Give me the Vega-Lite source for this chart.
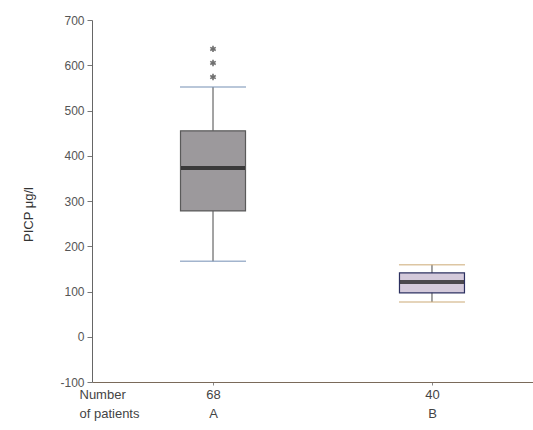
{
  "$schema": "https://vega.github.io/schema/vega-lite/v6.json",
  "autosize": "none",
  "width": 441,
  "height": 362,
  "padding": {"left": 92, "top": 20, "right": 0, "bottom": 48},
  "background": "white",
  "config": {"font": "Liberation Sans", "view": {"stroke": null}},
  "datasets": {
    "stats": [
      {"group": "A", "n": "68", "lo": 167, "q1": 278, "med": 373, "q3": 455, "hi": 552},
      {"group": "B", "n": "40", "lo": 77, "q1": 97, "med": 121, "q3": 141, "hi": 159}
    ],
    "outliers": [
      {"group": "A", "value": 574},
      {"group": "A", "value": 605},
      {"group": "A", "value": 636}
    ]
  },
  "encoding": {
    "x": {
      "field": "group",
      "type": "nominal",
      "scale": {"type": "point", "domain": ["A", "B"], "padding": 0.507, "align": 0.545},
      "axis": {
        "labelExpr": "datum.value == 'A' ? ['68', 'A'] : ['40', 'B']",
        "labelAngle": 0,
        "labelFontSize": 13,
        "labelColor": "#444",
        "labelLineHeight": 19,
        "labelPadding": 3,
        "tickSize": 3,
        "tickColor": "#888",
        "domainColor": "#7a6a5a",
        "domainWidth": 1.2,
        "title": ["Number", "of patients"],
        "titleFontSize": 13,
        "titleFontWeight": "normal",
        "titleColor": "#444",
        "titleLineHeight": 19,
        "titleAnchor": "start",
        "titleAlign": "left",
        "titleBaseline": "top",
        "titleX": -13,
        "titleY": 6
      }
    }
  },
  "layer": [
    {
      "data": {"name": "stats"},
      "mark": {"type": "rule", "strokeWidth": 1.2, "color": "#666666"},
      "encoding": {
        "y": {
          "field": "lo",
          "type": "quantitative",
          "scale": {"domain": [-100, 700], "nice": false, "zero": false},
          "axis": {
            "values": [-100, -50, 0, 50, 100, 150, 200, 250, 300, 350, 400, 450, 500, 550, 600, 650, 700],
            "labelExpr": "datum.value % 100 === 0 ? replace(datum.label, '−', '-') : ''",
            "labelFontSize": 12,
            "labelColor": "#555",
            "labelPadding": 3,
            "tickSize": {"condition": {"test": "datum.value % 100 === 0", "value": 5}, "value": 3},
            "tickColor": "#777",
            "domainColor": "#666",
            "grid": false,
            "title": "PICP μg/l",
            "titleFontSize": 13,
            "titleFontWeight": "normal",
            "titleColor": "#333",
            "titleAngle": -90,
            "titleAlign": "center",
            "titleBaseline": "middle",
            "titleX": -64,
            "titleY": 194
          }
        },
        "y2": {"field": "hi"}
      }
    },
    {
      "data": {"name": "stats"},
      "mark": {"type": "bar", "size": 65, "strokeWidth": 1.2},
      "encoding": {
        "y": {"field": "q1", "type": "quantitative"},
        "y2": {"field": "q3"},
        "fill": {"field": "group", "type": "nominal", "scale": {"domain": ["A", "B"], "range": ["#9c999c", "#d4cadb"]}, "legend": null},
        "stroke": {"field": "group", "type": "nominal", "scale": {"domain": ["A", "B"], "range": ["#5a5a5a", "#2c3060"]}, "legend": null}
      }
    },
    {
      "data": {"name": "stats"},
      "mark": {"type": "tick", "size": 64, "thickness": 4, "color": "#111"},
      "encoding": {"y": {"field": "med", "type": "quantitative"}}
    },
    {
      "data": {"name": "stats"},
      "mark": {"type": "tick", "size": 66, "thickness": 1.5},
      "encoding": {
        "y": {"field": "lo", "type": "quantitative"},
        "color": {"field": "group", "type": "nominal", "scale": {"domain": ["A", "B"], "range": ["#7a94b8", "#cfae7c"]}, "legend": null}
      }
    },
    {
      "data": {"name": "stats"},
      "mark": {"type": "tick", "size": 66, "thickness": 1.5},
      "encoding": {
        "y": {"field": "hi", "type": "quantitative"},
        "color": {"field": "group", "type": "nominal", "scale": {"domain": ["A", "B"], "range": ["#7a94b8", "#cfae7c"]}, "legend": null}
      }
    },
    {
      "data": {"name": "outliers"},
      "mark": {"type": "point", "shape": "M0,-1L0,1M-0.87,-0.5L0.87,0.5M-0.87,0.5L0.87,-0.5", "size": 40, "strokeWidth": 1.6, "color": "#333", "filled": false},
      "encoding": {"y": {"field": "value", "type": "quantitative"}}
    }
  ]
}
